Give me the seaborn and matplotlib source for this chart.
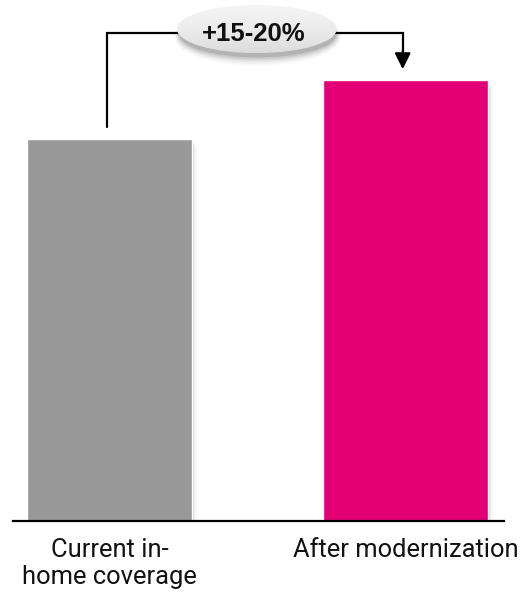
import matplotlib
matplotlib.use("Agg")
import matplotlib.pyplot as plt
import matplotlib.patches as mpatches
import numpy as np
import pandas as pd
import seaborn as sns

categories = ["Current in-\nhome coverage", "After modernization"]
values = [100.0, 115.4]
bar_colors = ["#999999", "#E20074"]
uplift_label = "+15-20%"

sns.set_theme(style="white")
plt.rcParams["font.family"] = ["Liberation Sans", "DejaVu Sans"]

df = pd.DataFrame({"stage": categories, "coverage": values})

fig = plt.figure(figsize=(5.2, 6.03), dpi=100)
ax = fig.add_axes([0.025, 0.136, 0.944, 0.864])

# soft drop shadows behind the bars
for i, v in enumerate(values):
    for k, a in enumerate([0.06, 0.045, 0.03]):
        off = 0.006 * (k + 1)
        ax.add_patch(mpatches.Rectangle((i - 0.2785 + off, 0), 0.557, v - 0.6 * (k + 1),
                                        facecolor="black", alpha=a, lw=0, zorder=1))

sns.barplot(data=df, x="stage", y="coverage", hue="stage", palette=bar_colors,
            width=0.557, legend=False, ax=ax, zorder=2, saturation=1)

ax.set_xlabel("")
ax.set_ylabel("")
ax.set_yticks([])
ax.tick_params(axis="x", length=0, pad=12, colors="#111111")
for lbl in ax.get_xticklabels():
    lbl.set_family(["Roboto", "DejaVu Sans"])
    lbl.set_fontsize(18.4)
    lbl.set_linespacing(1.17)
for s in ["top", "left", "right"]:
    ax.spines[s].set_visible(False)
ax.spines["bottom"].set_color("black")
ax.spines["bottom"].set_linewidth(1.6)

# bracket from the current bar to the modernized bar
top = 127.7
lx, rx = -0.008, 0.991
ax.plot([lx, lx, rx, rx], [values[0] + 3.1, top, top, values[1] + 7.0],
        color="black", lw=1.6, solid_joinstyle="miter", zorder=3)
ax.annotate("", xy=(rx, values[1] + 2.9), xytext=(rx, values[1] + 7.5),
            arrowprops=dict(arrowstyle="-|>,head_length=0.8,head_width=0.4",
                            color="black", lw=1.6, shrinkA=0, shrinkB=0), zorder=3)

# label ellipse with shadow and gradient fill
ecx, ecy = 0.498, 128.8
ew, eh = 0.54, 12.6
for k, a in enumerate([0.10, 0.08, 0.06, 0.045, 0.03, 0.02]):
    ax.add_patch(mpatches.Ellipse((ecx + 0.003, ecy - 1.4 - 0.15 * k), ew - 0.01 + 0.007 * k,
                                  eh - 0.6 + 0.6 * k, facecolor="black", alpha=a, lw=0, zorder=4))
ell = mpatches.Ellipse((ecx, ecy), ew, eh, facecolor="none", lw=0, zorder=5)
ax.add_patch(ell)
grad = np.linspace(0, 1, 64).reshape(-1, 1)
cmap = matplotlib.colors.LinearSegmentedColormap.from_list("g", ["#dcdcdc", "#ececec", "#f5f5f5"])
im = ax.imshow(grad, cmap=cmap, aspect="auto", origin="lower",
               extent=(ecx - ew / 2, ecx + ew / 2, ecy - eh / 2, ecy + eh / 2), zorder=5)
im.set_clip_path(ell)
ax.set_xlim(-0.326, 1.333)
ax.set_ylim(0, 136.4)
ax.text(ecx - 0.01, ecy - 1.3, uplift_label, ha="center", va="center", fontsize=18.5,
        fontweight="bold", color="#111111", zorder=6)

fig.savefig("out.png", dpi=100)
